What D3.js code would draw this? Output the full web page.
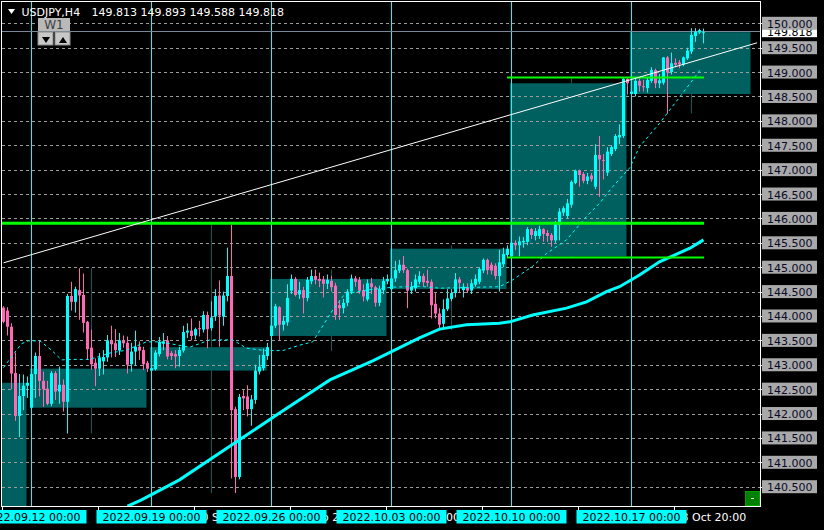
<!DOCTYPE html>
<html><head><meta charset="utf-8">
<script src="https://cdn.jsdelivr.net/npm/d3@7"></script>
<style>html,body{margin:0;padding:0;background:#000;overflow:hidden}svg{display:block}</style>
</head><body>
<svg id="c" width="824" height="530"></svg>
<script>
const symbol = "USDJPY,H4";
const lastOHLC = ["149.813", "149.893", "149.588", "149.818"];
// H4 candles (index 0 = 2022.09.08 20:00)
const open = [144.17,144.11,143.78,142.83,141.95,142.36,142.57,
142.12,142.81,143.18,142.67,142.51,142.20,142.83,142.45,142.59,142.24,144.41,144.29,144.53,144.43,143.88,143.35,143.04,142.92,143.07,143.15,143.50,143.44,143.29,143.50,143.45,143.01,143.27,143.37,143.30,143.04,
142.88,142.91,143.22,143.43,143.50,143.24,143.22,143.18,143.29,143.66,143.70,143.60,143.75,143.72,144.02,143.75,143.99,144.42,143.99,144.41,144.82,142.09,140.70,142.36,142.35,142.09,142.28,142.86,142.93,143.18,
143.59,143.80,144.18,143.82,143.87,144.52,144.76,144.44,144.53,144.37,144.71,144.82,144.76,144.75,144.66,144.72,144.62,144.22,144.16,144.27,144.50,144.77,144.74,144.53,144.34,144.67,144.59,144.27,144.53,144.71,
144.55,144.77,144.93,145.05,144.94,144.52,144.57,144.70,144.82,144.72,144.70,144.25,144.05,143.84,144.14,144.35,144.47,144.75,144.53,144.59,144.52,144.64,144.70,144.93,145.15,145.05,145.03,144.82,145.06,145.25,
145.22,145.50,145.45,145.51,145.52,145.78,145.64,145.64,145.78,145.70,145.66,145.55,145.87,146.12,146.05,146.28,146.73,146.98,146.91,146.77,146.88,146.65,147.30,147.20,146.94,147.32,147.42,147.66,147.69,148.86,
148.55,148.55,148.82,148.71,148.67,148.82,149.04,148.77,148.78,149.30,149.00,149.19,149.20,149.16,149.28,149.42,149.74,149.81,149.813];
const high = [144.20,144.18,143.85,143.25,142.81,142.80,142.76,
143.00,143.25,143.50,142.86,142.67,142.87,142.87,142.96,142.70,144.45,144.70,144.60,144.98,144.87,143.90,143.72,143.13,143.24,143.30,143.61,143.80,143.73,143.65,143.60,143.58,143.45,143.70,143.48,143.37,143.08,
142.96,143.30,143.57,143.65,143.59,143.28,143.30,143.37,143.80,143.85,143.95,143.76,143.90,144.10,144.09,144.30,144.55,144.73,144.50,145.40,145.87,142.14,142.40,142.48,142.58,142.38,143.00,143.20,143.33,143.45,
143.85,144.25,144.20,144.00,144.65,144.85,144.80,144.70,144.60,144.80,144.95,144.95,144.89,144.82,144.85,144.82,144.68,144.32,144.35,144.55,144.85,144.82,144.80,144.65,144.75,144.78,144.62,144.62,144.80,144.85,
144.85,145.13,145.15,145.23,144.97,144.70,144.85,144.92,144.87,144.95,144.75,144.47,144.16,144.34,144.55,144.55,144.88,144.80,144.67,144.67,144.75,144.85,145.00,145.18,145.18,145.10,145.08,145.36,145.40,145.45,
145.55,145.55,145.63,145.62,145.82,145.80,145.80,145.85,145.80,145.76,145.70,145.95,146.21,146.25,146.40,146.78,147.00,147.00,146.95,146.93,146.93,147.52,147.69,147.32,147.46,147.50,147.73,147.93,148.88,148.89,
148.75,148.90,148.87,148.84,148.89,149.10,149.07,148.96,149.31,149.33,149.40,149.28,149.25,149.32,149.50,149.90,149.90,149.89,149.893];
const low = [143.85,143.60,142.50,141.85,141.52,142.07,142.32,
142.10,142.32,142.35,142.14,142.17,142.15,142.28,142.20,142.04,141.59,144.11,144.07,143.92,143.66,143.10,142.90,142.56,142.77,142.80,143.06,143.15,143.16,143.20,143.35,142.82,142.86,142.98,143.10,142.89,142.85,
142.85,142.88,143.17,143.30,143.11,143.10,142.93,142.96,143.25,143.55,143.50,143.52,143.58,143.66,143.34,143.70,143.90,143.37,143.80,144.30,140.67,140.37,140.65,142.07,141.94,141.75,142.20,142.80,142.88,143.10,
143.28,143.75,143.50,143.70,143.80,144.45,144.40,144.35,144.05,144.30,144.65,144.65,144.59,144.38,144.55,144.50,143.92,143.92,144.05,144.20,144.45,144.60,144.45,144.30,144.30,144.45,144.19,144.20,144.45,144.65,
144.50,144.70,144.88,144.88,144.16,144.45,144.50,144.65,144.60,144.60,143.95,143.95,143.73,143.71,144.10,144.30,144.38,144.47,144.38,144.47,144.45,144.60,144.65,144.88,144.85,144.85,144.75,144.50,145.00,145.20,
145.20,145.35,145.22,145.40,145.45,145.58,145.55,145.58,145.52,145.52,145.42,145.50,145.55,146.05,146.00,146.22,146.70,146.65,146.72,146.70,146.75,146.60,146.44,146.80,146.87,147.28,147.38,147.52,147.65,148.54,
148.52,148.50,148.60,148.60,148.58,148.78,148.67,148.67,148.74,148.15,148.95,149.10,149.08,149.12,149.25,149.37,149.62,149.78,149.588];
const close = [143.88,143.78,142.82,141.95,142.36,142.57,142.63,
142.81,143.18,142.67,142.50,142.20,142.83,142.45,142.59,142.24,144.41,144.29,144.55,144.42,143.86,143.32,143.01,142.92,143.15,143.16,143.50,143.42,143.30,143.50,143.44,143.00,143.27,143.37,143.29,143.01,142.92,
142.93,143.25,143.47,143.48,143.17,143.18,143.17,143.30,143.67,143.70,143.59,143.73,143.73,144.02,143.73,143.97,144.41,144.01,144.42,144.82,142.07,140.70,142.34,142.31,142.09,142.29,142.88,142.96,143.20,143.36,
143.80,144.20,143.82,143.90,144.37,144.76,144.43,144.53,144.37,144.74,144.82,144.74,144.72,144.66,144.74,144.59,144.02,144.16,144.27,144.50,144.77,144.70,144.52,144.40,144.67,144.59,144.27,144.55,144.72,144.76,
144.77,144.94,145.05,144.94,144.52,144.60,144.75,144.82,144.69,144.68,144.22,144.05,143.82,144.14,144.36,144.47,144.75,144.68,144.60,144.52,144.67,144.76,144.96,145.15,144.94,144.93,144.82,145.10,145.27,145.38,
145.50,145.45,145.53,145.54,145.78,145.66,145.74,145.78,145.68,145.64,145.55,145.90,146.14,146.21,146.31,146.75,146.98,146.89,146.77,146.86,146.80,147.30,147.21,147.18,147.37,147.46,147.69,147.71,148.86,148.77,
148.60,148.82,148.72,148.69,148.84,149.04,148.77,148.83,149.30,148.99,149.18,149.15,149.16,149.30,149.44,149.76,149.83,149.86,149.818];

// weekly (W1) overlay: first index of each week; the first week opened below the visible range
const weekStartIdx = [-23, 7, 37, 67, 97, 127, 157];
const firstWeekOpen = 139.90;
const weekLabels = ["2022.09.12 00:00","2022.09.19 00:00","2022.09.26 00:00","2022.10.03 00:00","2022.10.10 00:00","2022.10.17 00:00"];
const timeTickIdx = [0, 24, 48, 72, 96, 120, 144, 168];
// native time labels that peek out between the week labels ("" = fully covered)
const timeTickLabels = ["", "", "20 Sep 20:00", "26 Sep 20:00", "30 Sep 20:00", "", "", "18 Oct 20:00"];
const priceTicks = d3.range(140.5, 150.0001, 0.5);
// moving averages: [candle index, price]
const maSlow = [[31,140.10],[34.5,140.23],[44,140.64],[59,141.46],[69,142.01],[81.6,142.69],[92.3,143.08],[104,143.55],[109,143.73],[115.75,143.82],[124,143.85],[126.6,143.88],[132.3,144.02],[140.75,144.16],[145.75,144.29],[150.75,144.50],[154,144.60],[159,144.84],[164,145.11],[171.6,145.39],[175,145.56]];
const maFast = [[0,142.94],[2.8,143.25],[4.5,143.43],[6.15,143.49],[9.1,143.49],[12,143.30],[14.5,143.10],[17.4,143.11],[21.6,143.11],[26.6,143.24],[30.75,143.30],[35.75,143.47],[39,143.47],[46.6,143.36],[51.6,143.51],[57.3,143.51],[60.75,143.34],[65.6,143.29],[69.8,143.29],[74,143.40],[77.3,143.47],[82.3,144.12],[85.3,144.45],[90.75,144.53],[97.3,144.59],[104,144.61],[109,144.57],[124,144.60],[127.3,144.74],[132.3,145.02],[135.75,145.28],[140.75,145.56],[145.75,146.04],[149,146.31],[152.3,146.65],[156.6,147.04],[159,147.47],[164,147.95],[170.75,148.67],[174.5,149.08]];
const trendPoints = [[0,145.09],[188.4,149.60]];
const keyLevel = 145.90;
const bidPrice = 149.818;

const FONT = "DejaVu Sans";
const svg = d3.select("#c");
const n = open.length;
const x = d3.scaleLinear().domain([0, n - 1]).range([3.5, 3.5 + 4 * (n - 1)]);
const y = d3.scaleLinear().domain([140.5, 150]).range([486.7, 23.3]);
const PL = 2, PT = 2, PR = 760, PB = 506;

svg.append("rect").attr("width", 824).attr("height", 530).attr("fill", "#000");
svg.append("defs").append("clipPath").attr("id", "plot")
  .append("rect").attr("x", PL).attr("y", PT).attr("width", PR - PL).attr("height", PB - PT);
const g = svg.append("g").attr("clip-path", "url(#plot)");

// weekly data
const weeks = weekStartIdx.map((s, w) => {
  const a = Math.max(0, s), b = Math.min(n - 1, s + 29);
  const idx = d3.range(a, b + 1);
  return {
    s, last: w === weekStartIdx.length - 1,
    o: w === 0 ? firstWeekOpen : open[s],
    c: close[b],
    h: d3.max(idx, i => high[i]),
    l: d3.min(idx, i => low[i])
  };
});
const BOX = "#005f5f";
weeks.forEach(wk => {
  const wx = Math.floor(x(wk.s + 15));
  g.append("rect").attr("x", wx).attr("width", 1)
    .attr("y", y(wk.h)).attr("height", Math.max(1, y(wk.l) - y(wk.h))).attr("fill", BOX);
  const x1 = x(wk.s) - 1.5, x2 = x(wk.s + (wk.last ? 30 : 29)) - 1;
  g.append("rect").attr("x", x1).attr("width", x2 - x1)
    .attr("y", y(Math.max(wk.o, wk.c))).attr("height", Math.abs(y(wk.o) - y(wk.c))).attr("fill", BOX);
});

// grid
priceTicks.forEach(p => {
  const yy = Math.round(y(p)) + 0.5;
  g.append("line").attr("x1", PL).attr("x2", PR).attr("y1", yy).attr("y2", yy)
    .attr("stroke", "#9c9c9c").attr("stroke-width", 1).attr("stroke-dasharray", "3,3");
});
// week separators
weekStartIdx.slice(1).forEach(s => {
  const xx = Math.floor(x(s)) + 0.5;
  g.append("line").attr("x1", xx).attr("x2", xx).attr("y1", PT).attr("y2", PB)
    .attr("stroke", "#00ffff").attr("stroke-width", 1);
});
// bid line
const bidLineY = Math.round(y(bidPrice)) - 0.5;
g.append("line").attr("x1", PL).attr("x2", PR).attr("y1", bidLineY).attr("y2", bidLineY)
  .attr("stroke", "#778899").attr("stroke-width", 1);

// candles
const BULL = "#00ffff", BEAR = "#ff69b4";
const cg = g.append("g");
d3.range(n).forEach(i => {
  const col = close[i] >= open[i] ? BULL : BEAR;
  const cx = Math.floor(x(i));
  cg.append("rect").attr("x", cx).attr("width", 1).attr("y", y(high[i]))
    .attr("height", Math.max(1, y(low[i]) - y(high[i]))).attr("fill", col);
  const top = y(Math.max(open[i], close[i])), bot = y(Math.min(open[i], close[i]));
  cg.append("rect").attr("x", cx - 1).attr("width", 3).attr("y", top)
    .attr("height", Math.max(1, bot - top)).attr("fill", col);
});

// moving averages
const line = d3.line().x(d => x(d[0])).y(d => y(d[1]));
g.append("path").attr("d", line(maSlow)).attr("fill", "none").attr("stroke", "#00ffff").attr("stroke-width", 3);
g.append("path").attr("d", line(maFast)).attr("fill", "none").attr("stroke", "#00ffff").attr("stroke-width", 1).attr("stroke-dasharray", "3,3");

// levels
const lastX = x(n - 1) + 0.5;
const w6 = weeks[weeks.length - 2];
g.append("line").attr("x1", PL).attr("x2", lastX).attr("y1", y(keyLevel)).attr("y2", y(keyLevel))
  .attr("stroke", "#00ff00").attr("stroke-width", 3);
[w6.h, w6.l].forEach(p => {
  g.append("line").attr("x1", x(w6.s) - 4.5).attr("x2", lastX).attr("y1", y(p)).attr("y2", y(p))
    .attr("stroke", "#00ff00").attr("stroke-width", 2);
});
// trend line
g.append("line").attr("x1", x(trendPoints[0][0])).attr("y1", y(trendPoints[0][1]))
  .attr("x2", x(trendPoints[1][0])).attr("y2", y(trendPoints[1][1]))
  .attr("stroke", "#fff").attr("stroke-width", 1);

// frame
svg.append("rect").attr("x", PL - 0.5).attr("y", PT - 0.5).attr("width", PR - PL + 1).attr("height", PB - PT + 1)
  .attr("fill", "none").attr("stroke", "#fff").attr("stroke-width", 1);

// right axis
const bidY = y(bidPrice) - 1;
svg.append("rect").attr("x", 762).attr("y", bidY - 6.5).attr("width", 55).attr("height", 12.5).attr("fill", "#fff");
svg.append("text").attr("x", 767).attr("y", bidY + 4.5).attr("font-family", FONT).attr("font-size", 11)
  .attr("fill", "#000").text(bidPrice.toFixed(3));
priceTicks.forEach(p => {
  const yy = y(p);
  svg.append("line").attr("x1", 760).attr("x2", 763).attr("y1", Math.round(yy) + 0.5).attr("y2", Math.round(yy) + 0.5).attr("stroke", "#fff");
  svg.append("rect").attr("x", 762).attr("y", yy - 6.5).attr("width", 55).attr("height", 13).attr("fill", "#a9a9a9");
  svg.append("text").attr("x", 767).attr("y", yy + 4.5).attr("font-family", FONT).attr("font-size", 11)
    .attr("fill", "#0a0a28").text(p.toFixed(3));
});

// bottom axis
timeTickIdx.forEach((t, k) => {
  const xx = Math.floor(x(t)) - 0.5;
  svg.append("line").attr("x1", xx).attr("x2", xx).attr("y1", PB).attr("y2", 510).attr("stroke", "#fff");
  if (timeTickLabels[k]) {
    svg.append("text").attr("x", xx).attr("y", 521).attr("font-family", FONT).attr("font-size", 11)
      .attr("fill", "#fff").text(timeTickLabels[k]);
  }
});
weekStartIdx.slice(1).forEach((s, k) => {
  const cx = Math.floor(x(s)) + 0.5;
  svg.append("rect").attr("x", cx - 55).attr("y", 510).attr("width", 110).attr("height", 13.5).attr("fill", "#00ffff");
  svg.append("text").attr("x", cx).attr("y", 521).attr("text-anchor", "middle").attr("font-family", FONT)
    .attr("font-size", 11).attr("fill", "#000").text(weekLabels[k]);
});

// header
svg.append("path").attr("d", "M8,9 L15,9 L11.5,14 Z").attr("fill", "#fff");
svg.append("text").attr("x", 21.5).attr("y", 16).attr("font-family", FONT).attr("font-size", 11)
  .attr("fill", "#fff").text(symbol);
svg.append("text").attr("x", 91.5).attr("y", 16).attr("font-family", FONT).attr("font-size", 11)
  .attr("fill", "#fff").text(lastOHLC.join(" "));

// W1 widget
svg.append("rect").attr("x", 38).attr("y", 18).attr("width", 32).attr("height", 13).attr("fill", "#b9b9b9");
svg.append("text").attr("x", 54).attr("y", 28.5).attr("text-anchor", "middle").attr("font-family", FONT)
  .attr("font-size", 12).attr("fill", "#404040").text("W1");
[[38, "M42,37 L50,37 L46,43 Z"], [55, "M59,43 L67,43 L63,37 Z"]].forEach(([bx, d]) => {
  svg.append("rect").attr("x", bx).attr("y", 32).attr("width", 15).attr("height", 13).attr("fill", "#c8c8c8")
    .attr("stroke", "#8c8c8c").attr("stroke-width", 1);
  svg.append("path").attr("d", d).attr("fill", "#000");
});

// bottom-right button
svg.append("rect").attr("x", 745.5).attr("y", 491.5).attr("width", 14).attr("height", 14)
  .attr("fill", "#008000").attr("stroke", "#00a000");
svg.append("rect").attr("x", 751).attr("y", 498).attr("width", 3).attr("height", 1).attr("fill", "#fff");
</script>
</body></html>
